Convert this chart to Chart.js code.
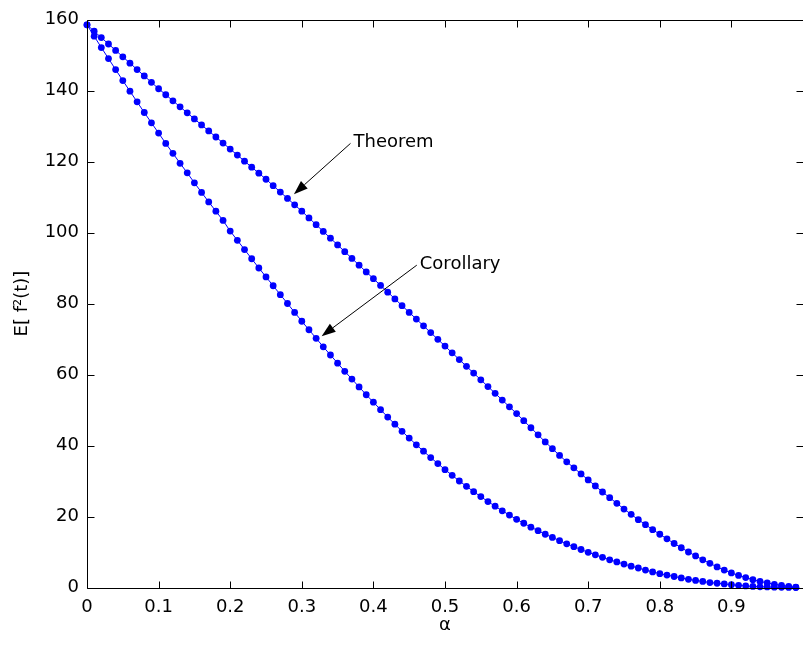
<!DOCTYPE html>
<html>
<head>
<meta charset="utf-8">
<script src="https://cdn.jsdelivr.net/npm/chart.js@4/dist/chart.umd.min.js"></script>
<style>
html,body{margin:0;padding:0;background:#fff;overflow:hidden;width:803px;height:645px;}
#wrap{width:812px;height:645px;}
</style>
</head>
<body>
<div id="wrap"><canvas id="c" width="812" height="645"></canvas></div>
<script>
// ---- data ----
const alpha = [
0.00,0.01,0.02,0.03,0.04,0.05,0.06,0.07,0.08,0.09,
0.10,0.11,0.12,0.13,0.14,0.15,0.16,0.17,0.18,0.19,
0.20,0.21,0.22,0.23,0.24,0.25,0.26,0.27,0.28,0.29,
0.30,0.31,0.32,0.33,0.34,0.35,0.36,0.37,0.38,0.39,
0.40,0.41,0.42,0.43,0.44,0.45,0.46,0.47,0.48,0.49,
0.50,0.51,0.52,0.53,0.54,0.55,0.56,0.57,0.58,0.59,
0.60,0.61,0.62,0.63,0.64,0.65,0.66,0.67,0.68,0.69,
0.70,0.71,0.72,0.73,0.74,0.75,0.76,0.77,0.78,0.79,
0.80,0.81,0.82,0.83,0.84,0.85,0.86,0.87,0.88,0.89,
0.90,0.91,0.92,0.93,0.94,0.95,0.96,0.97,0.98,0.99];

const theorem = [
158.5,156.7,154.9,153.1,151.3,149.5,147.7,145.9,144.1,142.3,
140.5,138.8,137.1,135.4,133.7,132.0,130.3,128.6,126.9,125.2,
123.5,121.8,120.1,118.4,116.7,115.0,113.2,111.4,109.6,107.8,
106.0,104.1,102.2,100.3,98.4,96.5,94.6,92.7,90.8,88.9,
87.0,85.1,83.2,81.3,79.4,77.5,75.6,73.7,71.8,69.9,
68.0,66.1,64.2,62.3,60.4,58.5,56.6,54.7,52.8,50.9,
49.0,47.0,45.0,43.0,41.0,39.1,37.2,35.4,33.7,32.0,
30.3,28.6,26.9,25.3,23.7,22.1,20.6,19.1,17.7,16.3,
15.0,13.7,12.4,11.2,10.0,8.9,7.8,6.8,5.8,4.9,
4.1,3.4,2.8,2.2,1.7,1.3,0.9,0.6,0.3,0.1];

const corollary = [
158.5,155.3,152.1,149.0,145.9,142.8,139.8,136.8,133.8,130.9,
128.0,125.1,122.3,119.5,116.8,114.0,111.3,108.6,106.0,103.4,
100.4,97.8,95.2,92.6,90.0,87.5,85.0,82.5,80.0,77.5,
75.0,72.6,70.2,67.8,65.5,63.2,60.9,58.7,56.5,54.3,
52.2,50.1,48.0,46.0,44.0,42.1,40.2,38.4,36.6,34.9,
33.2,31.6,30.0,28.5,27.0,25.6,24.2,22.9,21.6,20.4,
19.2,18.1,17.0,16.0,15.0,14.1,13.2,12.3,11.5,10.7,
9.9,9.2,8.5,7.8,7.2,6.6,6.0,5.5,4.9,4.4,
3.9,3.5,3.1,2.7,2.3,2.0,1.7,1.4,1.2,1.0,
0.8,0.6,0.45,0.3,0.2,0.15,0.1,0.05,0.02,0.0];

const xTicks = [0,0.1,0.2,0.3,0.4,0.5,0.6,0.7,0.8,0.9];
const yTicks = [0,20,40,60,80,100,120,140,160];

// annotation: label, text anchor (data), arrow tip (data)
const noteLabels = ['Theorem','Corollary'];
const noteTail = [[0.368,125.1],[0.4606,90.8]];
const noteTip  = [[0.289,110.8],[0.3277,70.8]];

const FONT = 'DejaVu Sans';
const BLUE = '#0000ff';

function pts(ys){ return alpha.map((a,i)=>({x:a,y:ys[i]})); }

const frame = {
  id:'frame',
  afterDraw(chart){
    const ctx = chart.ctx, a = chart.chartArea;
    const xs = chart.scales.x, ys = chart.scales.y;
    ctx.save();
    ctx.strokeStyle = '#000';
    ctx.lineWidth = 1;
    const L = Math.round(a.left)+0.5, R = Math.round(a.right)+0.5, T = Math.round(a.top)+0.5, B = Math.round(a.bottom)+0.5;
    ctx.beginPath();
    ctx.rect(L, T, R-L, B-T);
    ctx.stroke();
    const tl = 7;
    ctx.beginPath();
    xTicks.forEach(v=>{
      const px = Math.round(xs.getPixelForValue(v))+0.5;
      ctx.moveTo(px,B); ctx.lineTo(px,B-tl);
      ctx.moveTo(px,T); ctx.lineTo(px,T+tl);
    });
    yTicks.forEach(v=>{
      const py = Math.round(ys.getPixelForValue(v))+0.5;
      ctx.moveTo(L,py); ctx.lineTo(L+tl,py);
      ctx.moveTo(R,py); ctx.lineTo(R-tl,py);
    });
    ctx.stroke();

    // annotations
    ctx.fillStyle = '#000';
    ctx.font = '18px "'+FONT+'"';
    ctx.textBaseline = 'middle';
    ctx.textAlign = 'left';
    noteLabels.forEach((t,i)=>{
      const x0 = xs.getPixelForValue(noteTail[i][0]), y0 = ys.getPixelForValue(noteTail[i][1]);
      const x1 = xs.getPixelForValue(noteTip[i][0]),  y1 = ys.getPixelForValue(noteTip[i][1]);
      const ang = Math.atan2(y1-y0, x1-x0);
      const hl = 14, hw = 5;
      const bx = x1 - hl*Math.cos(ang), by = y1 - hl*Math.sin(ang);
      ctx.beginPath();
      ctx.moveTo(x0,y0); ctx.lineTo(bx,by);
      ctx.stroke();
      ctx.beginPath();
      ctx.moveTo(x1,y1);
      ctx.lineTo(bx + hw*Math.sin(ang), by - hw*Math.cos(ang));
      ctx.lineTo(bx - hw*Math.sin(ang), by + hw*Math.cos(ang));
      ctx.closePath();
      ctx.fill();
      ctx.fillText(t, x0+3, y0-1);
    });
    ctx.restore();
  }
};

const bg = {
  id:'bg',
  beforeDraw(chart){
    const ctx = chart.ctx;
    ctx.save(); ctx.fillStyle='#fff'; ctx.fillRect(0,0,chart.width,chart.height); ctx.restore();
  }
};

new Chart(document.getElementById('c'), {
  type:'scatter',
  data:{
    datasets:[
      {label:'Theorem', data:pts(theorem), showLine:true, borderColor:BLUE, borderWidth:1,
       pointRadius:3.4, pointBackgroundColor:BLUE, pointBorderColor:BLUE, pointBorderWidth:0, clip:8},
      {label:'Corollary', data:pts(corollary), showLine:true, borderColor:BLUE, borderWidth:1,
       pointRadius:3.4, pointBackgroundColor:BLUE, pointBorderColor:BLUE, pointBorderWidth:0, clip:8}
    ]
  },
  options:{
    responsive:false,
    animation:false,
    devicePixelRatio:1,
    layout:{padding:{left:0,right:6,top:19.5,bottom:0}},
    plugins:{legend:{display:false},tooltip:{enabled:false}},
    scales:{
      x:{
        type:'linear', min:0, max:1,
        afterBuildTicks(s){ s.ticks = xTicks.concat([1]).map(v=>({value:v})); },
        afterFit(s){ s.height = 57.5; },
        grid:{display:false, drawTicks:false},
        border:{display:false},
        ticks:{
          autoSkip:false, maxRotation:0, padding:9, color:'#000',
          font:{family:FONT, size:18},
          callback:(v)=> v>0.95 ? '' : String(+v.toFixed(1))
        },
        title:{display:true, text:'α', color:'#000', font:{family:FONT,size:18}, padding:{top:0,bottom:9}}
      },
      y:{
        type:'linear', min:0, max:160,
        afterBuildTicks(s){ s.ticks = yTicks.map(v=>({value:v})); },
        afterFit(s){ s.width = 87; },
        grid:{display:false, drawTicks:false},
        border:{display:false},
        ticks:{
          autoSkip:false, padding:8, color:'#000',
          font:{family:FONT, size:18}
        },
        title:{display:true, text:'E[ f²(t)]', color:'#000', font:{family:FONT,size:18}, padding:{top:12,bottom:0}}
      }
    }
  },
  plugins:[bg, frame]
});
</script>
</body>
</html>
